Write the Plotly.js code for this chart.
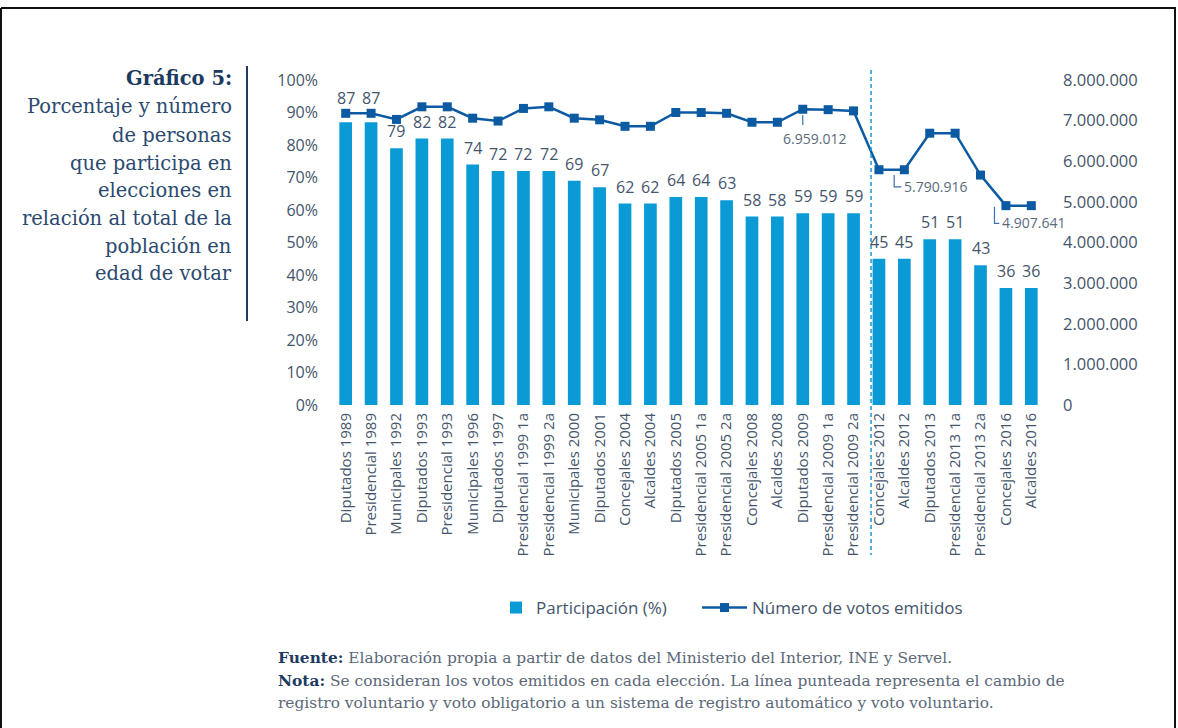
<!DOCTYPE html>
<html>
<head>
<meta charset="utf-8">
<script src="https://cdn.plot.ly/plotly-3.0.1.min.js"></script>
<style>
html,body{margin:0;padding:0;background:#fff;}
#chart{width:1178px;height:728px;}
</style>
</head>
<body>
<div id="chart"></div>
<script>
const categories = ["Diputados 1989","Presidencial 1989","Municipales 1992","Diputados 1993","Presidencial 1993","Municipales 1996","Diputados 1997","Presidencial 1999 1a","Presidencial 1999 2a","Municipales 2000","Diputados 2001","Concejales 2004","Alcaldes 2004","Diputados 2005","Presidencial 2005 1a","Presidencial 2005 2a","Concejales 2008","Alcaldes 2008","Diputados 2009","Presidencial 2009 1a","Presidencial 2009 2a","Concejales 2012","Alcaldes 2012","Diputados 2013","Presidencial 2013 1a","Presidencial 2013 2a","Concejales 2016","Alcaldes 2016"];
const participacion = [87,87,79,82,82,74,72,72,72,69,67,62,62,64,64,63,58,58,59,59,59,45,45,51,51,43,36,36];
const votos = [7180000,7180000,7030000,7340000,7340000,7060000,6990000,7300000,7340000,7060000,7020000,6860000,6860000,7200000,7200000,7180000,6960000,6960000,7280000,7270000,7240000,5790916,5790916,6690000,6690000,5660000,4907641,4907641];
const yTicks = [0,10,20,30,40,50,60,70,80,90,100];
const yTickText = ["0%","10%","20%","30%","40%","50%","60%","70%","80%","90%","100%"];
const y2Ticks = [0,1000000,2000000,3000000,4000000,5000000,6000000,7000000,8000000];
const y2TickText = ["0","1.000.000","2.000.000","3.000.000","4.000.000","5.000.000","6.000.000","7.000.000","8.000.000"];
const titleLines = ["Porcentaje y número","de personas","que participa en","elecciones en","relación al total de la","población en","edad de votar"];
const calloutLabels = ["6.959.012","5.790.916","4.907.641"];

const W = 1178, H = 728, L = 333, R = 134, T = 80, B = 323;
const pw = W - L - R, ph = H - T - B;
const px = x => (x - L) / pw;
const py = y => (H - B - y) / ph;
const Y1MAX = 100, Y2MAX = 8000000;

const barColor = "#0a9bd7";
const lineColor = "#0c5aa2";
const textColor = "#44556b";
const serif = "'DejaVu Serif', serif";
const sans = "'Open Sans', sans-serif";

const traces = [
  {
    type: "bar", x: categories, y: participacion, name: "Participación (%)",
    marker: {color: barColor}, yaxis: "y", legend: "legend"
  },
  {
    type: "scatter", mode: "lines+markers", x: categories, y: votos, yaxis: "y2",
    name: "Número de votos emitidos", legend: "legend2",
    line: {color: lineColor, width: 2.5},
    marker: {symbol: "square", size: 9, color: lineColor}
  }
];

const shapes = [
  {type:"line", xref:"paper", yref:"paper", x0:px(1), x1:px(1176), y0:py(8), y1:py(8), line:{color:"#111", width:2}},
  {type:"line", xref:"paper", yref:"paper", x0:px(1), x1:px(1), y0:py(8), y1:py(728), line:{color:"#111", width:2}},
  {type:"line", xref:"paper", yref:"paper", x0:px(1175), x1:px(1175), y0:py(8), y1:py(728), line:{color:"#111", width:2}},
  {type:"line", xref:"paper", yref:"paper", x0:px(247), x1:px(247), y0:py(66), y1:py(321), line:{color:"#1f3a5f", width:2}},
  {type:"line", xref:"x", yref:"paper", x0:20.69, x1:20.69, y0:py(70), y1:py(555), line:{color:"#1a9ad6", width:1.5, dash:"4px,3px"}},
  {type:"line", xref:"x", yref:"y2", x0:18, x1:18, y0:7140000, y1:6890000, line:{color:"#3b6fb0", width:1.2}},
  {type:"path", xref:"x", yref:"y2", path:"M 21.6 5660000 L 21.6 5370000 L 21.88 5370000", line:{color:"#3b6fb0", width:1.2}},
  {type:"path", xref:"x", yref:"y2", path:"M 25.55 4880000 L 25.55 4470000 L 25.74 4470000", line:{color:"#3b6fb0", width:1.2}}
];

const annotations = [
  {xref:"x", yref:"y2", x:18.45, y:6560000, text:calloutLabels[0], showarrow:false, xanchor:"center", yanchor:"middle", font:{family:sans, size:14, color:"#5a6a7c"}},
  {xref:"x", yref:"y2", x:21.9, y:5370000, text:calloutLabels[1], showarrow:false, xanchor:"left", yanchor:"middle", font:{family:sans, size:14, color:"#5a6a7c"}},
  {xref:"x", yref:"y2", x:25.76, y:4500000, text:calloutLabels[2], showarrow:false, xanchor:"left", yanchor:"middle", font:{family:sans, size:14, color:"#5a6a7c"}},
  {xref:"paper", yref:"paper", x:px(234), y:py(78), text:"<b>Gráfico 5:</b>", showarrow:false, xanchor:"right", yanchor:"middle", font:{family:serif, size:19.5, color:"#1d3a5f"}}
];

// bar value labels: placed above each bar, lifted above the line marker when they would collide
participacion.forEach((v, i) => {
  const barTopPx = ph * v / Y1MAX;
  const markerPx = ph * votos[i] / Y2MAX;
  let shift = 4;
  if (markerPx > barTopPx - 6 && markerPx - barTopPx < 26) shift = (markerPx - barTopPx) + 2;
  annotations.push({xref:"x", yref:"y", x:categories[i], y:v, text:String(v), showarrow:false,
    xanchor:"center", yanchor:"bottom", yshift:shift, font:{family:sans, size:16, color:textColor}});
});

const titleY = [106.7,135,163,190,218,246.5,273];
titleLines.forEach((t,i) => annotations.push({xref:"paper", yref:"paper", x:px(234), y:py(titleY[i]), text:t, showarrow:false, xanchor:"right", yanchor:"middle", font:{family:serif, size:19.5, color:"#2b4a6f"}}));

const footer = [
  {y:658, text:"<b>Fuente:</b> <span style='color:#5b6878'>Elaboración propia a partir de datos del Ministerio del Interior, INE y Servel.</span>"},
  {y:681, text:"<b>Nota:</b> <span style='color:#5b6878'>Se consideran los votos emitidos en cada elección. La línea punteada representa el cambio de</span>"},
  {y:703, text:"<span style='color:#5b6878'>registro voluntario y voto obligatorio a un sistema de registro automático y voto voluntario.</span>"}
];
footer.forEach(f => annotations.push({xref:"paper", yref:"paper", x:px(276), y:py(f.y), text:f.text, showarrow:false, xanchor:"left", yanchor:"middle", align:"left", font:{family:serif, size:15.4, color:"#1d3a5f"}}));

const legendFont = {family: sans, size: 17, color: textColor};
const layout = {
  width: W, height: H,
  margin: {l: L, r: R, t: T, b: B, pad: 0},
  paper_bgcolor: "#fff", plot_bgcolor: "#fff",
  separators: ",.",
  bargap: 0.5,
  showlegend: true,
  legend: {orientation: "h", x: px(496), xanchor: "left", y: py(608), yanchor: "middle", font: legendFont},
  legend2: {orientation: "h", x: px(697), xanchor: "left", y: py(608), yanchor: "middle", font: legendFont, itemwidth: 45},
  xaxis: {type: "category", range: [-0.5, 27.5], tickangle: -90, showgrid: false, zeroline: false, showline: false, ticks: "", ticklabelstandoff: 4, tickfont: {family: sans, size: 15, color: textColor}},
  yaxis: {range: [0, Y1MAX], tickmode: "array", tickvals: yTicks, ticktext: yTickText, showgrid: false, zeroline: false, showline: false, ticks: "", ticklabelstandoff: 14, tickfont: {family: sans, size: 16, color: textColor}},
  yaxis2: {range: [0, Y2MAX], tickmode: "array", tickvals: y2Ticks, ticktext: y2TickText, overlaying: "y", side: "right", showgrid: false, zeroline: false, showline: false, ticks: "", ticklabelstandoff: 18, tickfont: {family: sans, size: 16.5, color: textColor}},
  shapes: shapes,
  annotations: annotations
};

Plotly.newPlot("chart", traces, layout, {displayModeBar: false, staticPlot: true});
</script>
</body>
</html>
